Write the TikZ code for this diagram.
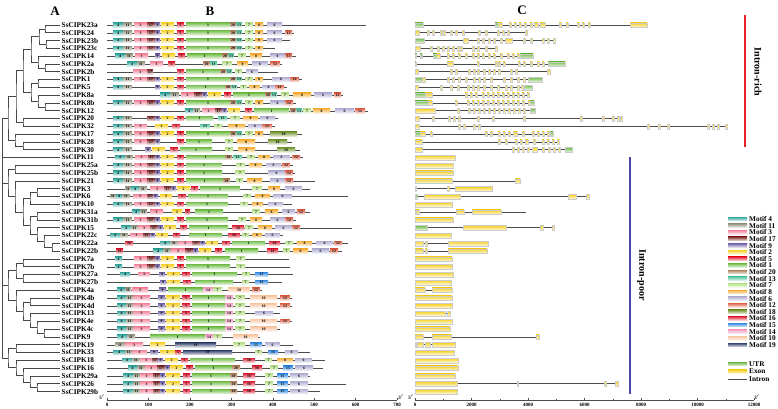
\documentclass[tikz,border=0pt]{standalone}
\usepackage{fontspec}
\setmainfont{Liberation Serif}
\usetikzlibrary{calc}
\definecolor{m4}{HTML}{3AA8A0}
\definecolor{m11}{HTML}{9A9C88}
\definecolor{m3}{HTML}{F28AA0}
\definecolor{m17}{HTML}{8E3B3B}
\definecolor{m9}{HTML}{7A6AAE}
\definecolor{m2}{HTML}{F7D232}
\definecolor{m5}{HTML}{E8253A}
\definecolor{m1}{HTML}{78C050}
\definecolor{m20}{HTML}{B48462}
\definecolor{m13}{HTML}{5CC8A0}
\definecolor{m7}{HTML}{B8E08C}
\definecolor{m8}{HTML}{F6B03E}
\definecolor{m6}{HTML}{B4B2D4}
\definecolor{m12}{HTML}{E0684E}
\definecolor{m18}{HTML}{7C9A3C}
\definecolor{m16}{HTML}{E02C40}
\definecolor{m15}{HTML}{3A8EE4}
\definecolor{m14}{HTML}{F6A2C4}
\definecolor{m10}{HTML}{FAC8A4}
\definecolor{m19}{HTML}{36456E}
\definecolor{ux}{HTML}{6DBB45}
\definecolor{ex}{HTML}{F5CF1E}
\definecolor{richred}{HTML}{E8202A}
\definecolor{poorblue}{HTML}{4A48A8}
\tikzset{
  treeline/.style={draw=black!72,line width=0.7pt},
  protline/.style={draw=black!70,line width=0.6pt},
  intronline/.style={draw=black!70,line width=0.7pt},
  mlab/.style={inner sep=0pt,font=\fontsize{3.8}{3.8}\selectfont\bfseries},
  gname/.style={anchor=west,inner sep=0pt,font=\fontsize{7.3}{7.3}\selectfont\bfseries},
  legtext/.style={anchor=west,inner sep=0pt,font=\fontsize{7.3}{7.3}\selectfont\bfseries},
  ticklab/.style={inner sep=0pt,font=\fontsize{5}{5}\selectfont\bfseries},
  panellab/.style={inner sep=0pt,font=\fontsize{13}{13}\selectfont\bfseries},
  sidelab/.style={inner sep=0pt,rotate=-90,font=\fontsize{10}{10}\selectfont\bfseries}
}
\newcommand\clade[4]{%
  \path let \p1=(#3), \p2=(#4) in coordinate (#1) at (#2pt,{0.5*\y1+0.5*\y2});
  \draw[treeline] (#3) -| (#1) |- (#4);
}
\newcommand\protrow[3]{%
  \pgfmathsetmacro\ry{25+(#1-1)*7.8}
  \coordinate (Ps#1) at (107,\ry);
  \coordinate (Pe#1) at (#2,\ry);
  \draw[protline] (Ps#1) -- (Pe#1);
  \foreach \m/\a/\b in {#3} {
    \shade[top color=m\m,bottom color=m\m!15!white] (\a,\ry-2.3) rectangle (\b,\ry+2.3);
    \node[mlab] (b#1-\m-\a) at ({(\a+\b)/2},\ry) {\m};
  }
}
\newcommand\generow[4]{%
  \pgfmathsetmacro\ry{25+(#1-1)*7.8}
  \coordinate (Gs#1) at (415,\ry);
  \coordinate (Ge#1) at (#2,\ry);
  \draw[intronline] (Gs#1) -- (Ge#1);
  \foreach \t/\a/\b in {#3} {
    \shade[top color=\t,bottom color=\t!15!white,draw=black!20,line width=0.2pt] (\a,\ry-2.3) rectangle (\b,\ry+2.3);
  }
  \def\tmplist{#4}%
  \ifx\tmplist\empty\else
  \foreach \a in {#4} {
    \shade[top color=ex,bottom color=ex!15!white,draw=black!20,line width=0.2pt] (\a,\ry-2.3) rectangle (\a+2,\ry+2.3);
  }
  \fi
}
\begin{document}
\begin{tikzpicture}[x=1pt,y=-1pt]
\useasboundingbox (0,0) rectangle (778,408);
% panel labels
\node[panellab] (pA) at (55,11) {A};
\node[panellab] (pB) at (210,11) {B};
\node[panellab] (pC) at (522,10) {C};
% leaves and names
\foreach \nm [count=\i] in {SsCIPK23a,SsCIPK24,SsCIPK23b,SsCIPK23c,SsCIPK14,SsCIPK2a,SsCIPK2b,SsCIPK1,SsCIPK5,SsCIPK8a,SsCIPK8b,SsCIPK12,SsCIPK20,SsCIPK32,SsCIPK17,SsCIPK28,SsCIPK30,SsCIPK11,SsCIPK25a,SsCIPK25b,SsCIPK21,SsCIPK3,SsCIPK6,SsCIPK10,SsCIPK31a,SsCIPK31b,SsCIPK15,SsCIPK22c,SsCIPK22a,SsCIPK22b,SsCIPK7a,SsCIPK7b,SsCIPK27a,SsCIPK27b,SsCIPK4a,SsCIPK4b,SsCIPK4d,SsCIPK13,SsCIPK4e,SsCIPK4c,SsCIPK9,SsCIPK19,SsCIPK33,SsCIPK18,SsCIPK16,SsCIPK29a,SsCIPK26,SsCIPK29b} {
  \pgfmathsetmacro\ly{25+(\i-1)*7.8}
  \coordinate (L\i) at (60,\ly);
  \node[gname] (N\i) at (61.5,\ly) {\nm};
}
% tree
\clade{n12}{45}{L1}{L2}
\clade{n34}{46}{L3}{L4}
\clade{n14}{39}{n12}{n34}
\clade{n67}{45}{L6}{L7}
\clade{n57}{38}{L5}{n67}
\clade{n17}{31}{n14}{n57}
\clade{n89}{38}{L8}{L9}
\clade{n1112}{45}{L11}{L12}
\clade{n1012}{38}{L10}{n1112}
\clade{n812}{31}{n89}{n1012}
\clade{n112}{23}{n17}{n812}
\clade{n1314}{23}{L13}{L14}
\clade{n114}{16}{n112}{n1314}
\clade{n1617}{23}{L16}{L17}
\clade{n1517}{15}{L15}{n1617}
\clade{n117}{8}{n114}{n1517}
\clade{n1920}{15}{L19}{L20}
\clade{n2223}{37}{L22}{L23}
\clade{n2224}{30}{n2223}{L24}
\clade{n2526}{37}{L25}{L26}
\clade{n2930}{52}{L29}{L30}
\clade{n2830}{44}{L28}{n2930}
\clade{n2730}{37}{L27}{n2830}
\clade{n2530}{30}{n2526}{n2730}
\clade{n2230}{23}{n2224}{n2530}
\clade{n2130}{15}{L21}{n2230}
\clade{n1930}{8}{n1920}{n2130}
\clade{n3132}{23}{L31}{L32}
\clade{n3334}{23}{L33}{L34}
\clade{n3134}{16}{n3132}{n3334}
\clade{n3637}{30}{L36}{L37}
\clade{n4041}{44}{L40}{L41}
\clade{n3941}{37}{L39}{n4041}
\clade{n3841}{30}{L38}{n3941}
\clade{n3641}{23}{n3637}{n3841}
\clade{n3541}{16}{L35}{n3641}
\clade{n3141}{8}{n3134}{n3541}
\clade{n4243}{16}{L42}{L43}
\clade{n4748}{37}{L47}{L48}
\clade{n4648}{30}{L46}{n4748}
\clade{n4548}{23}{L45}{n4648}
\clade{n4448}{16}{L44}{n4548}
\clade{n4248}{8}{n4243}{n4448}
\clade{ra}{2.7}{n3141}{n4248}
\clade{rb}{2.7}{n1930}{ra}
\clade{rc}{2.7}{L18}{rb}
\clade{root}{2.7}{n117}{rc}
% panel B proteins
\protrow{1}{366}{4/113/123,11/123/132,3/134/147,17/147/155,9/155/160,2/161/174,5/177/184,1/186/230,20/230/236,13/236/242,7/245/253,8/255/263,6/267/282}
\protrow{2}{294}{4/113/123,11/123/132,3/134/147,17/147/155,9/155/160,2/161/174,5/177/184,1/186/230,20/230/236,13/236/242,7/245/253,8/255/263,6/267/282,12/285/292}
\protrow{3}{290}{4/113/123,11/123/132,3/134/147,17/147/155,9/155/160,2/161/174,5/177/184,1/186/230,20/230/236,13/236/242,7/245/253,8/255/263,6/267/282}
\protrow{4}{275}{4/113/123,11/123/132,3/134/147,17/147/155,9/155/160,2/161/174,5/177/184,1/186/230,20/230/236,13/236/242,7/245/253,8/255/263}
\protrow{5}{296}{4/115/125,11/125/133,3/135/148,9/155/160,2/162/175,5/178/185,1/187/222,20/222/228,13/228/234,7/238/246,8/250/262,6/270/285,12/285/292}
\protrow{6}{282}{4/127/137,11/137/145,3/150/163,5/168/175,20/203/210,13/210/217,7/222/232,8/237/248,6/252/268,12/270/280}
\protrow{7}{278}{3/133/147,17/147/153,5/177/184,1/186/220,20/220/226,13/226/232,7/235/242,6/246/258}
\protrow{8}{302}{4/113/123,11/123/132,3/134/147,17/147/155,9/155/160,2/161/174,5/177/184,1/186/230,20/230/236,13/236/242,7/245/253,8/255/263,6/272/290,12/290/299}
\protrow{9}{287}{4/113/123,11/123/132,9/155/160,2/161/174,5/177/184,1/186/225,20/225/231,13/231/237,7/240/247,8/249/260,6/262/275,12/275/284}
\protrow{10}{343}{4/160/170,11/170/179,3/181/194,17/194/202,9/202/207,2/208/221,5/224/231,1/233/265,20/265/271,13/271/277,7/281/289,8/293/311,6/314/332,12/334/341}
\protrow{11}{296}{4/113/123,11/123/132,3/134/147,17/147/155,9/155/160,2/161/174,5/177/184,1/186/230,20/230/236,13/236/242,7/245/253,8/255/263,6/270/285,12/285/293}
\protrow{12}{368}{4/185/193,11/193/200,3/202/215,17/215/222,9/222/227,2/228/240,5/245/252,1/254/289,20/290/296,13/296/302,7/303/311,8/313/330,6/335/354,12/355/365}
\protrow{13}{278}{4/113/123,11/123/132,17/147/155,9/155/160,2/161/174,5/177/184,1/186/213,13/218/227,7/230/240,8/243/258,6/260/275}
\protrow{14}{275}{4/113/123,11/123/132,3/134/147,2/155/168,5/172/180,13/200/210,7/214/222,8/228/245,6/248/262,12/262/272}
\protrow{15}{302}{4/113/123,11/123/132,3/134/147,17/147/155,9/155/160,2/161/174,5/177/184,1/186/230,20/230/236,13/236/242,7/245/253,8/255/263,18/270/297}
\protrow{16}{292}{4/113/123,11/123/132,3/134/147,17/147/155,9/155/160,5/177/184,1/186/212,7/225/233,8/237/255,18/268/287}
\protrow{17}{300}{4/113/123,11/123/132,9/145/151,2/152/165,5/170/178,1/180/212,7/225/233,8/238/255,18/277/295}
\protrow{18}{303}{4/115/125,11/125/133,3/135/148,17/148/155,9/155/160,2/161/174,5/177/184,1/186/225,20/225/232,13/233/242,7/247/255,8/258/270,6/273/290,12/292/300}
\protrow{19}{293}{4/113/123,11/123/132,3/134/147,17/147/155,9/155/160,2/161/174,5/177/184,1/186/222,7/236/245,8/249/262,6/266/281,12/282/290}
\protrow{20}{295}{4/113/123,11/123/132,3/134/147,17/147/155,9/155/160,2/161/174,5/177/184,1/186/222,7/235/245,6/268/285,12/285/293}
\protrow{21}{315}{4/113/123,11/123/132,3/134/147,17/147/155,9/155/160,2/161/174,5/177/184,1/186/223,20/223/230,7/236/243,8/247/262,6/270/285,12/285/293}
\protrow{22}{310}{11/125/131,4/131/139,11/139/147,3/150/164,17/164/171,9/171/176,2/177/190,5/191/198,1/200/240,7/252/262,8/268/280,6/285/302}
\protrow{23}{348}{11/110/116,4/116/122,11/122/130,3/133/147,17/147/153,9/153/158,2/160/172,5/178/186,1/188/228,7/243/251,8/255/270,6/273/292}
\protrow{24}{292}{4/113/123,11/123/132,3/134/147,17/147/155,9/155/160,2/161/174,5/177/184,1/186/228,7/240/248,8/252/263,6/268/283}
\protrow{25}{310}{4/132/140,11/140/147,3/150/163,2/172/182,5/185/190,1/195/223,7/252/260,8/265/278,6/282/295,12/297/305}
\protrow{26}{296}{4/113/123,11/123/132,3/134/147,17/147/155,9/155/160,2/161/174,5/177/184,1/186/228,7/238/246,8/250/262,6/270/285,12/285/293}
\protrow{27}{352}{4/121/131,11/131/138,3/138/150,17/150/158,9/158/163,2/164/176,5/180/187,1/189/228,16/232/244,7/245/253,8/258/272,6/275/292,12/292/300}
\protrow{28}{283}{4/110/120,11/120/128,3/130/143,17/143/150,9/150/155,2/156/168,5/173/180,1/189/222,16/228/240,7/242/249,8/252/262,6/265/280}
\protrow{29}{348}{16/125/133,4/160/170,11/170/178,3/178/192,17/192/200,9/200/205,2/206/218,5/222/230,1/232/265,16/269/280,7/285/293,8/297/312,6/316/333,12/334/342}
\protrow{30}{342}{16/116/123,4/153/163,11/163/171,3/171/185,17/185/193,9/193/198,2/199/211,5/215/222,1/225/258,16/267/278,7/283/290,8/293/308,6/312/329,12/330/338}
\protrow{31}{289}{4/115/122,3/134/147,17/147/155,9/155/160,2/161/174,5/177/184,1/186/230,7/236/245}
\protrow{32}{290}{4/115/122,3/134/147,17/147/155,9/155/160,2/161/174,5/177/184,1/186/230,7/236/245}
\protrow{33}{293}{4/120/130,3/138/150,9/159/165,2/167/180,5/182/190,1/192/237,7/242/250,15/255/268}
\protrow{34}{282}{9/160/166,2/167/180,5/183/191,1/195/233,7/242/249,15/255/268}
\protrow{35}{262}{4/117/125,11/125/131,3/132/148,9/159/166,1/168/203,14/203/213,7/213/222,10/228/250,12/252/260}
\protrow{36}{292}{4/117/126,11/126/133,3/133/150,9/158/165,2/166/180,5/182/190,1/192/225,14/225/233,7/235/245,10/250/277,12/280/290}
\protrow{37}{292}{4/117/126,11/126/133,3/133/150,9/158/165,2/166/180,5/182/190,1/192/225,14/225/233,7/235/245,10/250/277,12/280/290}
\protrow{38}{280}{4/117/126,11/126/133,3/133/150,9/158/165,2/166/180,5/182/190,1/192/225,14/225/233,7/235/245,6/255/273}
\protrow{39}{292}{4/117/126,11/126/133,3/133/150,9/158/165,2/166/180,5/182/190,1/192/225,14/225/233,7/235/245,10/250/277,12/280/290}
\protrow{40}{280}{4/117/126,11/126/133,3/133/150,9/158/165,2/166/180,5/182/190,1/192/225,14/225/233,7/235/245,10/250/277}
\protrow{41}{260}{4/117/127,11/127/135,1/150/205,14/205/213,7/213/222,10/233/258}
\protrow{42}{293}{11/115/125,3/125/143,2/150/165,19/175/216,7/233/245,15/250/262,6/265/280}
\protrow{43}{310}{4/113/125,11/125/132,3/132/147,9/150/158,2/160/175,5/175/181,19/183/232,7/255/262,15/268/278,6/285/298}
\protrow{44}{325}{4/122/132,11/132/140,3/140/152,17/152/158,9/158/163,2/165/178,5/181/188,1/190/235,16/243/255,7/265/272,8/277/293,6/295/312}
\protrow{45}{323}{4/128/137,11/137/145,3/145/157,17/157/165,9/165/170,2/170/183,5/186/193,1/195/232,20/232/240,16/252/262,7/270/278,15/283/293,6/295/313}
\protrow{46}{310}{4/123/133,11/133/140,3/140/153,17/153/160,9/160/165,2/166/180,5/183/190,1/192/230,20/230/237,16/243/255,7/265/273,15/277/288,6/290/308}
\protrow{47}{346}{4/123/133,11/133/140,3/140/153,17/153/160,9/160/165,2/166/180,5/183/190,1/192/230,20/230/237,16/243/255,7/265/273,15/277/288,6/290/308}
\protrow{48}{320}{4/123/133,11/133/140,3/140/153,17/153/160,9/160/165,2/166/180,5/183/190,1/192/230,20/230/237,16/243/255,7/265/273,15/277/288,6/290/308}
% panel B axis
\coordinate (aB0) at (107,400);
\coordinate (aB7) at (397,400);
\draw[black!70,line width=0.5pt] (aB0) -- (aB7);
\foreach \k in {0,...,7} {
  \pgfmathsetmacro\tx{107+\k*41.43}
  \pgfmathtruncatemacro\tv{\k*100}
  \draw[black!70,line width=0.4pt] (\tx,400) -- (\tx,398);
  \node[ticklab] (tB\k) at (\tx,404.5) {\tv};
}
\node[ticklab] (fiveB) at (102,397.5) {5$'$};
\node[ticklab] (threeB) at (401,397.5) {3$'$};
% panel C genes
\generow{1}{647}{ux/415/423,ux/495/498,ex/498/502,ex/534/538,ex/540/545,ex/630/647}{509,514,519,524,530,559,566,577,582,588}
\generow{2}{527}{ex/415/419}{427,432,440,443,450,455,462,478,485,497,502,507,525}
\generow{3}{556}{ux/415/424,ex/463/468,ex/505/512}{477,482,488,493,500,523,530,542,547,553}
\generow{4}{497}{ex/415/420}{430,437,442,447,452,457,460,472,477,485,495}
\generow{5}{533}{ux/415/416.5,ux/420/422,ux/433/436,ex/436/440,ux/520/533}{447,452,458,465,472,477,482,488,493,500,507,512,517}
\generow{6}{565}{ux/415/416,ex/447/453,ux/548/565}{477,495,498,503,518,523,530,537,542}
\generow{7}{550}{ex/415/418,ex/547/550}{450,455,468,473,477,483,488,493,498,510,515}
\generow{8}{542}{ux/415/422,ex/422/425,ux/528/542}{447,452,458,465,473,478,483,490,503,510,517,523}
\generow{9}{532}{ex/415/418,ux/524/532}{440,450,457,467,472,477,483,490,497,505,510,517,521}
\generow{10}{529}{ux/415/425,ex/425/432}{465,470,475,482,487,492,497,502,507,512,517,522,527}
\generow{11}{534}{ux/415/428,ex/428/432,ex/528/530,ux/530/534}{455,467,472,477,482,487,492,497,502,507,512,517,522}
\generow{12}{535}{ex/415/435,ux/530/535}{457,468,473,478,483,488,493,498,503,508,513,518,523}
\generow{13}{622}{ex/415/419}{432,448,453,458,477,492,523,580,602,612,617,620}
\generow{14}{727}{ex/415/419}{458,463,473,478,647,658,667,707,712,717,725}
\generow{15}{553}{ux/415/420,ex/420/425,ex/513/517,ux/550/553}{430,485,490,498,503,508,522,532,537,542,547}
\generow{16}{559}{ex/415/422,ex/525/528}{498,505,515,520,533,542,547,552,557}
\generow{17}{572}{ex/415/422,ex/532/537,ux/565/572}{512,517,522,527,542,548,553,558}
\generow{18}{455}{ex/415/455}{}
\generow{19}{453}{ex/415/453}{}
\generow{20}{453}{ex/415/453}{}
\generow{21}{520}{ex/415/452,ex/515/520}{}
\generow{22}{492}{ex/415/416,ex/447/449,ex/455/492}{}
\generow{23}{589}{ux/415/417,ex/424/460,ex/568/576,ex/586/589}{}
\generow{24}{452}{ex/415/452}{}
\generow{25}{526}{ux/415/416,ex/416/419,ex/456/464,ex/472/501}{}
\generow{26}{453}{ex/415/453}{}
\generow{27}{554}{ux/415/427,ex/463/506,ex/540/543,ex/552/554}{}
\generow{28}{451}{ex/415/451}{}
\generow{29}{488}{ex/415/423,ex/425/427,ex/448/488}{}
\generow{30}{487}{ex/415/423,ex/425/427,ex/448/487}{}
\generow{31}{452}{ex/415/452}{}
\generow{32}{452}{ex/415/452}{}
\generow{33}{453}{ex/415/453}{}
\generow{34}{451}{ex/415/451}{}
\generow{35}{452}{ex/415/425,ex/432/452}{}
\generow{36}{452}{ex/415/452}{}
\generow{37}{452}{ex/415/452}{}
\generow{38}{450}{ex/415/445,ex/447/450}{}
\generow{39}{452}{ex/415/452}{}
\generow{40}{450}{ex/415/450}{}
\generow{41}{539}{ex/415/423,ex/432/451,ex/536/539}{}
\generow{42}{455}{ex/415/416,ex/417/423,ex/425/430,ex/432/455}{}
\generow{43}{454}{ex/415/454}{}
\generow{44}{458}{ex/415/458}{}
\generow{45}{458}{ex/415/458}{}
\generow{46}{455}{ex/415/455}{}
\generow{47}{618}{ex/415/457,ex/517/518,ex/604/606,ex/615/618}{}
\generow{48}{457}{ex/415/457}{}
% panel C axis
\coordinate (aC0) at (415,400);
\coordinate (aC6) at (754,400);
\draw[black!70,line width=0.5pt] (aC0) -- (aC6);
\foreach \k in {0,...,6} {
  \pgfmathsetmacro\tx{415+\k*56.5}
  \pgfmathtruncatemacro\tv{\k*2000}
  \draw[black!70,line width=0.4pt] (\tx,400) -- (\tx,398);
  \node[ticklab] (tC\k) at (\tx,404.5) {\tv};
}
\foreach \k in {0,...,5} {
  \pgfmathsetmacro\tx{443.25+\k*56.5}
  \draw[black!70,line width=0.3pt] (\tx,400) -- (\tx,399);
}
\node[ticklab] (fiveC) at (411,397.5) {5$'$};
\node[ticklab] (threeC) at (757,397.5) {3$'$};
% intron-rich / intron-poor
\coordinate (rt) at (745,15);
\coordinate (rb) at (745,147);
\draw[richred,line width=1.3pt] (rt) -- (rb);
\node[sidelab] (rich) at (758,72) {Intron-rich};
\coordinate (bt) at (629.7,157);
\coordinate (bb) at (629.7,394);
\draw[poorblue,line width=1.6pt] (bt) -- (bb);
\node[sidelab] (poor) at (641.5,275) {Intron-poor};
% legend
\foreach \m [count=\k from 0] in {4,11,3,17,9,2,5,1,20,13,7,8,6,12,18,16,15,14,10,19} {
  \pgfmathsetmacro\gy{219+\k*6.63}
  \shade[top color=m\m,bottom color=m\m!15!white] (728,\gy-1.9) rectangle (747,\gy+1.9);
  \node[legtext] (lg\m) at (749,\gy) {Motif \m};
}
\shade[top color=ux,bottom color=ux!15!white] (728,362.2) rectangle (747,365.8);
\node[legtext] (lgU) at (749,364) {UTR};
\shade[top color=ex,bottom color=ex!15!white] (728,369.7) rectangle (747,373.3);
\node[legtext] (lgE) at (749,371.5) {Exon};
\coordinate (li1) at (728,379);
\coordinate (li2) at (747,379);
\draw[intronline] (li1) -- (li2);
\node[legtext] (lgI) at (749,379) {Intron};
\end{tikzpicture}
\end{document}
